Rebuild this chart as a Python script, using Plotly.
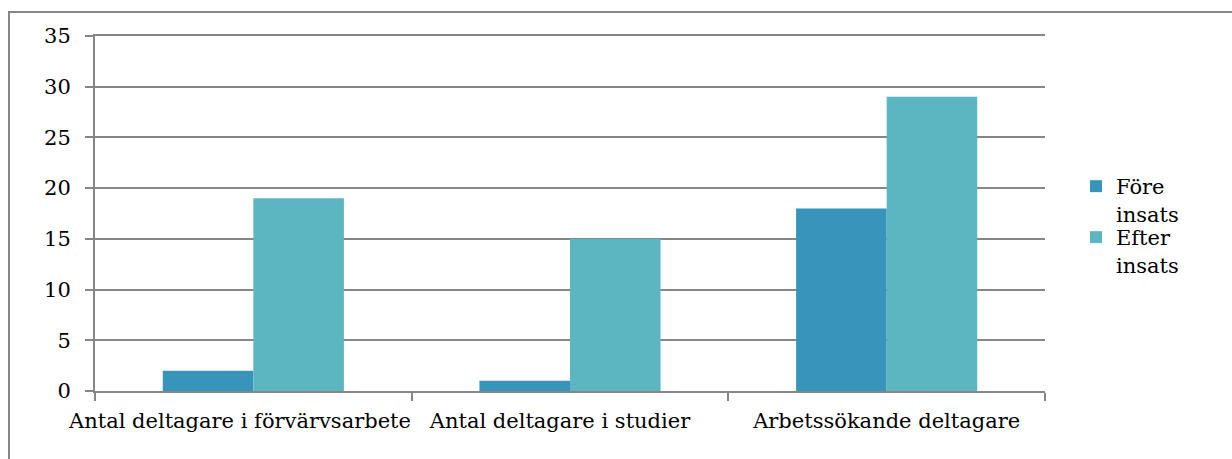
import plotly.graph_objects as go

categories = ["Antal deltagare i förvärvsarbete", "Antal deltagare i studier", "Arbetssökande deltagare"]
tick_labels = ["Antal deltagare i förvärvsarbete\u00a0\u00a0\u00a0\u00a0",
               "Antal deltagare i studier\u00a0\u00a0\u00a0",
               "Arbetssökande deltagare"]
fore = [2, 1, 18]
efter = [19, 15, 29]
series_names = ["Före<br>insats", "Efter<br>insats"]
y_ticks = [0, 5, 10, 15, 20, 25, 30, 35]

FONT = "DejaVu Serif"
FS = 21

fig = go.Figure()
fig.add_trace(go.Bar(x=categories, y=fore, name=series_names[0], legend="legend",
                     marker=dict(color="#3795BB", line=dict(width=0))))
fig.add_trace(go.Bar(x=categories, y=efter, name=series_names[1], legend="legend2",
                     marker=dict(color="#5BB6C1", line=dict(width=0))))

W, H = 1232, 459
L, R, T, B = 95, 187, 36, 68
pw, ph = W - L - R, H - T - B

def px(x):
    return (x - L) / pw

def py(y):
    return (H - B - y) / ph

leg_common = dict(xanchor="left", yanchor="top", valign="top",
                  font=dict(family=FONT, size=FS), tracegroupgap=0,
                  itemwidth=30, bgcolor="rgba(0,0,0,0)")

fig.update_layout(
    width=W, height=H,
    margin=dict(l=L, r=R, t=T, b=B, autoexpand=False),
    paper_bgcolor="white", plot_bgcolor="white",
    barmode="group", bargap=0.428, bargroupgap=0,
    font=dict(family=FONT, size=FS, color="black"),
    showlegend=True,
    legend=dict(x=px(1076), y=py(166), **leg_common),
    legend2=dict(x=px(1076), y=py(217), **leg_common),
    xaxis=dict(showline=True, linecolor="#868686", linewidth=2, automargin=False, tickangle=0,
               mirror=True, ticklabelstandoff=10,
               tickmode="array", tickvals=categories, ticktext=tick_labels,
               ticks="outside", ticklen=8, tickcolor="#868686", tickwidth=2,
               tickson="boundaries", showgrid=False, tickfont=dict(size=FS)),
    yaxis=dict(range=[0, 35], tickvals=y_ticks, showline=True, linecolor="#868686", linewidth=2,
               automargin=False, ticklabelstandoff=10,
               ticks="outside", ticklen=8, tickcolor="#868686", tickwidth=2,
               showgrid=True, gridcolor="#868686", gridwidth=1.5, zeroline=False,
               tickfont=dict(size=FS)),
    shapes=[dict(type="rect", xref="paper", yref="paper",
                 x0=px(9), x1=px(1260), y0=py(12), y1=py(500),
                 line=dict(color="#868686", width=2), fillcolor="rgba(0,0,0,0)", layer="below")],
)

fig.write_html("out.html", config={"displayModeBar": False},
               post_script="document.body.style.margin='0';document.body.style.overflow='hidden';")
